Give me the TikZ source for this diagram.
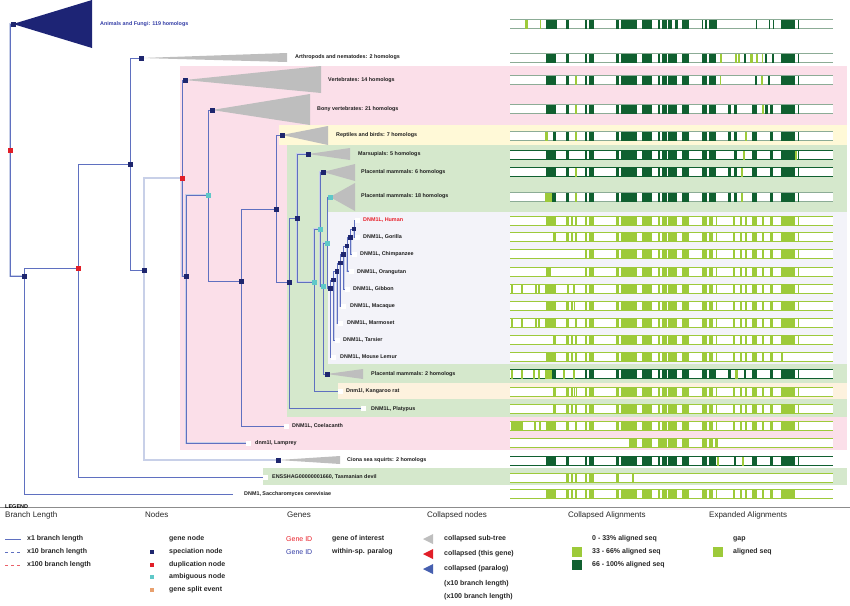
\documentclass[tikz,border=0pt]{standalone}
\usepackage{fontspec}
\setmainfont{Liberation Sans}
\pgfdeclarelayer{bg}\pgfdeclarelayer{lines}
\pgfsetlayers{bg,lines,main}
\definecolor{navy}{RGB}{30,38,110}
\definecolor{dupred}{RGB}{225,30,40}
\definecolor{ambcyan}{RGB}{95,200,200}
\definecolor{brblue}{RGB}{95,112,192}
\definecolor{brpale}{RGB}{200,208,232}
\definecolor{tri}{RGB}{190,190,190}
\definecolor{bgpink}{RGB}{251,223,233}
\definecolor{bgyellow}{RGB}{255,249,215}
\definecolor{bggreen}{RGB}{213,232,204}
\definecolor{bglav}{RGB}{243,243,249}
\definecolor{bgkang}{RGB}{253,242,222}
\definecolor{aldark}{RGB}{16,96,48}
\definecolor{allight}{RGB}{157,202,58}
\definecolor{alline}{RGB}{140,172,150}
\definecolor{labred}{RGB}{232,30,40}
\definecolor{labblue}{RGB}{50,60,165}
\definecolor{txt}{RGB}{30,30,30}
\definecolor{splitorange}{RGB}{232,160,110}
\definecolor{parablue}{RGB}{70,95,175}
\def\pD{546/556,566/568.5,585/587.3,589.3/594,615.7/619,620.7/636.7,641.7/651.7,658.3/660,661.7/666.7,668.3/676.7,681.7/689.3,701.7/706.7,709.3/716,780.7/795,797.7/799.3}
\def\pDm{585/587.3,589.3/594,615.7/619,620.7/636.7,641.7/651.7,658.3/660,661.7/666.7,668.3/676.7,681.7/689.3,701.7/706.7,709.3/716,780.7/795,797.7/799.3}
\def\pEm{585/587.3,589.3/594,615.7/619,620.7/636.7,641.7/651.7,658.3/660,661.7/666.7,668.3/676.7,681.7/689.3,701.7/706.7,709.3/713,716/717,733/735,740/742,745/747,752/757,762/764,770/773}
\def\pEe{780.7/795,797.7/799.3}
\newcommand{\alnbase}[2]{\fill[white] (510,#1-4.5) rectangle (833,#1+4.5);
  \draw[#2,line width=0.9pt] (510,#1-4.5) -- (833,#1-4.5) (510,#1+4.5) -- (833,#1+4.5);}
\newcommand{\alnfill}[3]{\edef\myalnlist{#3}%
  \foreach \a/\b in \myalnlist {\fill[#2] (\a,#1-4.5) rectangle (\b,#1+4.5);}}
\begin{document}
\begin{tikzpicture}[x=1pt,y=-1pt,
  sp/.style={rectangle,fill=navy,minimum size=5pt,inner sep=0pt,outer sep=0pt},
  spp/.style={sp,minimum size=4.5pt},
  du/.style={sp,fill=dupred},
  am/.style={sp,fill=ambcyan},
  lf/.style={rectangle,fill=white,minimum size=5pt,inner sep=0pt,outer sep=0pt},
  br/.style={draw=brblue,line width=0.8pt},
  brd/.style={draw=brblue,line width=0.8pt,preaction={draw=brpale,line width=2.2pt}},
  brp/.style={draw=brpale,line width=1.8pt},
  lab/.style={anchor=west,inner sep=0pt,font=\bfseries\fontsize{5.4}{6}\selectfont,text=txt},
  hdr/.style={anchor=west,inner sep=0pt,font=\fontsize{8}{9}\selectfont,text=black!85},
  li/.style={anchor=west,inner sep=0pt,font=\bfseries\fontsize{7}{8}\selectfont,text=black!85},
  lir/.style={anchor=west,inner sep=0pt,font=\fontsize{7}{8}\selectfont},
  lsq/.style={rectangle,minimum size=4pt,inner sep=0pt}]
\useasboundingbox (0,0) rectangle (850,605);
% ---------- background bands
\begin{pgfonlayer}{bg}
\fill[bgpink] (180,66) rectangle (847,450);
\fill[bgyellow] (279,125) rectangle (847,145);
\fill[bggreen] (287,145) rectangle (847,417);
\fill[bglav] (328,212) rectangle (847,364);
\fill[bgkang] (338,383) rectangle (847,399);
\fill[bggreen] (263,468) rectangle (847,485);
\end{pgfonlayer}
% ---------- alignments: collapsed rows
\alnbase{24}{alline}\alnfill{24}{allight}{525/528,540/541,713/717}\alnfill{24}{aldark}{546/557,566/568.5,585/587.3,589.3/594,615.7/619,620.7/636.7,641.7/651.7,658.3/660,661.7/666.7,668.3/672,675/678,681.7/689.3,701.7/703.3,705/707,709.3/717,756/757,769/770,773/774,780.7/795,797.7/799.3}
\alnbase{58}{alline}\alnfill{58}{allight}{720/722,735/737,738/740,750/753,756/758,762/763}\alnfill{58}{aldark}{\pD,744/746,765/767,772/774}
\alnbase{80}{alline}\alnfill{80}{allight}{575/577,720/721,761/763}\alnfill{80}{aldark}{\pD,755/757,768/770}
\alnbase{109}{alline}\alnfill{109}{allight}{575/577,762/764}\alnfill{109}{aldark}{\pD,728/731,734/737,752/757,765/768,770/773}
\alnbase{136}{alline}\alnfill{136}{allight}{545/548,575/577,745/747}\alnfill{136}{aldark}{553/556,566/568.5,\pDm,728/731,734/737,752/757,770/773}
\alnbase{155}{aldark}\alnfill{155}{allight}{743/745,794/797}\alnfill{155}{aldark}{\pD,734/737,752/757,770/773}
\alnbase{172}{aldark}\alnfill{172}{allight}{575/577,741/743}\alnfill{172}{aldark}{\pD,728/731,734/737,752/757,770/773}
\alnbase{197}{alline}\alnfill{197}{allight}{545/552,575/577,741/743}\alnfill{197}{aldark}{552/556,566/568.5,\pDm,728/731,734/737,752/757,770/773}
\alnbase{374}{aldark}\alnfill{374}{allight}{511/513,521/523,533/535,538/540,545/552,563/565,573/575,735/738}\alnfill{374}{aldark}{552/556,585/587.3,589.3/594,\pDm,728/731,744/746,752/757,770/773}
\alnbase{461}{aldark}\alnfill{461}{allight}{717/719,742/744}\alnfill{461}{aldark}{\pD,734/736,752/757,770/773}
% ---------- alignments: expanded rows
\alnbase{221}{allight}\alnfill{221}{allight}{546/556,566/568.5,571/573,575/577,\pEm,\pEe}
\alnbase{237}{allight}\alnfill{237}{allight}{553/556,566/568.5,571/573,575/577,\pEm,\pEe}
\alnbase{254}{allight}\alnfill{254}{allight}{\pEm,\pEe}
\alnbase{272}{allight}\alnfill{272}{allight}{546/551,\pEm,\pEe}
\alnbase{289}{allight}\alnfill{289}{allight}{511/512.5,521/523,535/536.5,538/540,545/556,567/569,573/574.5,\pEm,\pEe}
\alnbase{306}{allight}\alnfill{306}{allight}{546/556,566/568.5,571/573,574/575,\pEm,\pEe}
\alnbase{323}{allight}\alnfill{323}{allight}{511/512.5,521/523,535/536.5,538/540,545/556,566/568.5,575/577,\pEm,\pEe}
\alnbase{340}{allight}\alnfill{340}{allight}{553/556,566/568.5,571/573,575/577,\pEm,\pEe}
\alnbase{357}{allight}\alnfill{357}{allight}{546/556,566/568.5,571/573,575/577,\pEm,780.7/783.3}
\alnbase{392}{allight}\alnfill{392}{allight}{553/556,566/568.5,571/573,573.5/575,576/577,\pEm,\pEe}
\alnbase{409}{allight}\alnfill{409}{allight}{553/556,566/568.5,571/573,575/577,\pEm,\pEe}
\alnbase{426}{allight}\alnfill{426}{allight}{511/523,534/535.5,539/541,546/556,566/568.5,575/577,\pEm,\pEe}
\alnbase{443}{allight}\alnfill{443}{allight}{629/637,641.7/651.7,658.3/666.7,668.3/676.7,681.7/689.3,701.7/706.7,709.3/713,715/718}
\alnbase{478}{allight}\alnfill{478}{allight}{566/568.5,571/573,575/577,585/587.3,589.3/594,615.7/619,632/633.5}
\alnbase{494}{allight}\alnfill{494}{allight}{546/556,566/568.5,571/573,575/577,\pEm,780.7/795}
% ---------- tree nodes
\node[du] (root) at (10,150) {};
\node[sp] (af) at (13,24) {};
\node[sp] (n1) at (24,276) {};
\node[lf] (sacc) at (235,494) {};
\node[du] (d1) at (78,268) {};
\node[lf] (shag) at (265,477) {};
\node[sp] (n2) at (130,164) {};
\node[sp] (arth) at (141,58) {};
\node[sp] (n3) at (144,270) {};
\node[sp] (ciona) at (278,460) {};
\node[du] (d2) at (182,178) {};
\node[sp] (vert) at (185,80) {};
\node[sp] (n4) at (186,276) {};
\node[am] (a1) at (208,195) {};
\node[lf] (lamp) at (248,443) {};
\node[sp] (bony) at (212,110) {};
\node[sp] (n5) at (241,281) {};
\node[sp] (n6) at (276,209) {};
\node[lf] (coel) at (286,426) {};
\node[sp] (rept) at (282,135) {};
\node[sp] (n7) at (289,282) {};
\node[sp] (n8) at (297,218) {};
\node[lf] (platy) at (363,408) {};
\node[sp] (mars) at (308,154) {};
\node[am] (a2) at (314,282) {};
\node[am] (a3) at (320,229) {};
\node[lf] (kang) at (340,391) {};
\node[sp] (p6) at (323,172) {};
\node[am] (a4) at (323,286) {};
\node[am] (a5) at (327,243) {};
\node[sp] (p2) at (327,374) {};
\node[am] (p18) at (330,197) {};
\node[spp] (pr8) at (330.3,288.7) {};
\node[spp] (pr7) at (333.7,280) {};
\node[spp] (pr6) at (337,271.3) {};
\node[spp] (pr5) at (340.3,263) {};
\node[spp] (pr4) at (343.7,254.3) {};
\node[spp] (pr3) at (347,246) {};
\node[spp] (pr2) at (350.7,237.7) {};
\node[spp] (pr1) at (354,229) {};
\node[lf] (hum) at (357,220) {};
\node[lf] (gor) at (357,237) {};
\node[lf] (chi) at (354,254) {};
\node[lf] (ora) at (351,271) {};
\node[lf] (gib) at (347,289) {};
\node[lf] (mac) at (343,306) {};
\node[lf] (mar) at (340,323) {};
\node[lf] (tar) at (337,340) {};
\node[lf] (mle) at (333,357) {};
% ---------- collapsed sub-tree triangles
\begin{pgfonlayer}{lines}
\fill[navy!95!blue] (af.center) -- (92,0) -- (92,48) -- cycle;
\fill[tri] (arth.center) -- (287,53) -- (287,62) -- cycle;
\fill[tri] (vert.center) -- (321,66) -- (321,93) -- cycle;
\fill[tri] (bony.center) -- (310,94) -- (310,125) -- cycle;
\fill[tri] (rept.center) -- (328,126) -- (328,145) -- cycle;
\fill[tri] (mars.center) -- (350,148) -- (350,160) -- cycle;
\fill[tri] (p6.center) -- (355,164) -- (355,181) -- cycle;
\fill[tri] (p18.center) -- (355,183) -- (355,211) -- cycle;
\fill[tri] (p2.center) -- (363,369) -- (363,379) -- cycle;
\fill[tri] (ciona.center) -- (340,456) -- (340,464) -- cycle;
% ---------- branches
\draw[brd] (root.center) |- (af.center);
\draw[brd] (root.center) |- (n1.center);
\draw[br] (n1.center) |- (sacc.center);
\draw[br] (n1.center) |- (d1.center);
\draw[br] (d1.center) |- (n2.center);
\draw[br] (d1.center) |- (shag.center);
\draw[br] (n2.center) |- (arth.center);
\draw[br] (n2.center) |- (n3.center);
\draw[brp] (n3.center) |- (d2.center);
\draw[brp] (n3.center) |- (ciona.center);
\draw[br] (d2.center) |- (vert.center);
\draw[brd] (d2.center) |- (n4.center);
\draw[brd] (n4.center) |- (a1.center);
\draw[brd] (n4.center) |- (lamp.center);
\draw[br] (a1.center) |- (bony.center);
\draw[br] (a1.center) |- (n5.center);
\draw[br] (n5.center) |- (n6.center);
\draw[br] (n5.center) |- (coel.center);
\draw[br] (n6.center) |- (rept.center);
\draw[br] (n6.center) |- (n7.center);
\draw[br] (n7.center) |- (n8.center);
\draw[br] (n7.center) |- (platy.center);
\draw[brd] (n8.center) |- (mars.center);
\draw[brd] (n8.center) |- (a2.center);
\draw[brd] (a2.center) |- (a3.center);
\draw[br] (a2.center) |- (kang.center);
\draw[brd] (a3.center) |- (p6.center);
\draw[brd] (a3.center) |- (a4.center);
\draw[brd] (a4.center) |- (a5.center);
\draw[br] (a4.center) |- (p2.center);
\draw[br] (a5.center) |- (p18.center);
\draw[br] (a5.center) |- (pr8.center);
\draw[br] (pr8.center) |- (pr7.center);
\draw[br] (pr8.center) |- (mle.center);
\draw[br] (pr7.center) |- (pr6.center);
\draw[brd] (pr7.center) |- (tar.center);
\draw[br] (pr6.center) |- (pr5.center);
\draw[brd] (pr6.center) |- (mar.center);
\draw[br] (pr5.center) |- (pr4.center);
\draw[brd] (pr5.center) |- (mac.center);
\draw[br] (pr4.center) |- (pr3.center);
\draw[brd] (pr4.center) |- (gib.center);
\draw[br] (pr3.center) |- (pr2.center);
\draw[brd] (pr3.center) |- (ora.center);
\draw[br] (pr2.center) |- (pr1.center);
\draw[brd] (pr2.center) |- (chi.center);
\draw[br] (pr1.center) |- (hum.center);
\draw[brd] (pr1.center) |- (gor.center);
\end{pgfonlayer}
% ---------- labels
\node[lab,text=labblue] (laf) at (100,24) {Animals and Fungi: 119 homologs};
\node[lab] (larth) at (295,57) {Arthropods and nematodes: 2 homologs};
\node[lab] (lvert) at (328,80) {Vertebrates: 14 homologs};
\node[lab] (lbony) at (317,109) {Bony vertebrates: 21 homologs};
\node[lab] (lrept) at (336,135) {Reptiles and birds: 7 homologs};
\node[lab] (lmars) at (358,154) {Marsupials: 5 homologs};
\node[lab] (lp6) at (361,172) {Placental mammals: 6 homologs};
\node[lab] (lp18) at (361,196) {Placental mammals: 18 homologs};
\node[lab,text=labred] (lhum) at (363,220) {DNM1L, Human};
\node[lab] (lgor) at (363,237) {DNM1L, Gorilla};
\node[lab] (lchi) at (360,254) {DNM1L, Chimpanzee};
\node[lab] (lora) at (357,272) {DNM1L, Orangutan};
\node[lab] (lgib) at (353,289) {DNM1L, Gibbon};
\node[lab] (lmac) at (350,306) {DNM1L, Macaque};
\node[lab] (lmar) at (347,323) {DNM1L, Marmoset};
\node[lab] (ltar) at (343,340) {DNM1L, Tarsier};
\node[lab] (lmle) at (340,357) {DNM1L, Mouse Lemur};
\node[lab] (lp2) at (371,374) {Placental mammals: 2 homologs};
\node[lab] (lkang) at (346,391) {Dnm1l, Kangaroo rat};
\node[lab] (lplaty) at (371,409) {DNM1L, Platypus};
\node[lab] (lcoel) at (292,426) {DNM1L, Coelacanth};
\node[lab] (llamp) at (255,443) {dnm1l, Lamprey};
\node[lab] (lciona) at (347,460) {Ciona sea squirts: 2 homologs};
\node[lab] (lshag) at (272,477) {ENSSHAG00000001660, Tasmanian devil};
\node[lab] (lsacc) at (244,494) {DNM1, Saccharomyces cerevisiae};
% ---------- legend
\draw[black!45,line width=1.6pt] (0,507.5) -- (850,507.5);
\node[anchor=west,inner sep=0pt,font=\bfseries\fontsize{5.5}{6}\selectfont] (legend) at (5,506.5) {LEGEND};
\node[hdr] (hbl) at (5,515) {Branch Length};
\node[hdr] (hno) at (145,515) {Nodes};
\node[hdr] (hge) at (287,515) {Genes};
\node[hdr] (hcn) at (427,515) {Collapsed nodes};
\node[hdr] (hca) at (568,515) {Collapsed Alignments};
\node[hdr] (hea) at (709,515) {Expanded Alignments};
% branch length
\coordinate (b1a) at (5,539); \coordinate (b1b) at (21,539);
\coordinate (b2a) at (5,552); \coordinate (b2b) at (21,552);
\coordinate (b3a) at (5,565); \coordinate (b3b) at (21,565);
\draw[brblue,line width=0.8pt] (b1a) -- (b1b);
\draw[brblue,line width=0.8pt,dash pattern=on 3pt off 3pt] (b2a) -- (b2b);
\draw[dupred!70,line width=0.8pt,dash pattern=on 3pt off 3pt] (b3a) -- (b3b);
\node[li] (t1) at (27,539) {x1 branch length};
\node[li] (t2) at (27,552) {x10 branch length};
\node[li] (t3) at (27,565) {x100 branch length};
% nodes
\node[lsq,fill=navy] (qsp) at (152,552) {};
\node[lsq,fill=dupred] (qdu) at (152,565) {};
\node[lsq,fill=ambcyan] (qam) at (152,577) {};
\node[lsq,fill=splitorange] (qgs) at (152,590) {};
\node[li] (tn0) at (169,539) {gene node};
\node[li] (tn1) at (169,552) {speciation node};
\node[li] (tn2) at (169,565) {duplication node};
\node[li] (tn3) at (169,577) {ambiguous node};
\node[li] (tn4) at (169,590) {gene split event};
% genes
\node[lir,text=labred] (g1) at (286,539) {Gene ID};
\node[lir,text=labblue] (g2) at (286,552) {Gene ID};
\node[li] (g3) at (332,539) {gene of interest};
\node[li] (g4) at (332,552) {within-sp. paralog};
% collapsed nodes
\fill[tri] (423,539) -- (433,534) -- (433,544) -- cycle;
\fill[dupred] (423,554) -- (433,549) -- (433,559) -- cycle;
\fill[parablue] (423,569) -- (433,564) -- (433,574) -- cycle;
\node[li] (c1) at (444,539) {collapsed sub-tree};
\node[li] (c2) at (444,554) {collapsed (this gene)};
\node[li] (c3) at (444,569) {collapsed (paralog)};
\node[li] (c4) at (444,584) {(x10 branch length)};
\node[li] (c5) at (444,597) {(x100 branch length)};
% collapsed alignments
\fill[allight] (572,547) rectangle (582,557);
\fill[aldark] (572,560) rectangle (582,570);
\node[li] (ca1) at (592,539) {0 - 33\% aligned seq};
\node[li] (ca2) at (592,552) {33 - 66\% aligned seq};
\node[li] (ca3) at (592,565) {66 - 100\% aligned seq};
% expanded alignments
\fill[allight] (713,547) rectangle (723,557);
\node[li] (ea1) at (733,539) {gap};
\node[li] (ea2) at (733,552) {aligned seq};
\end{tikzpicture}
\end{document}
